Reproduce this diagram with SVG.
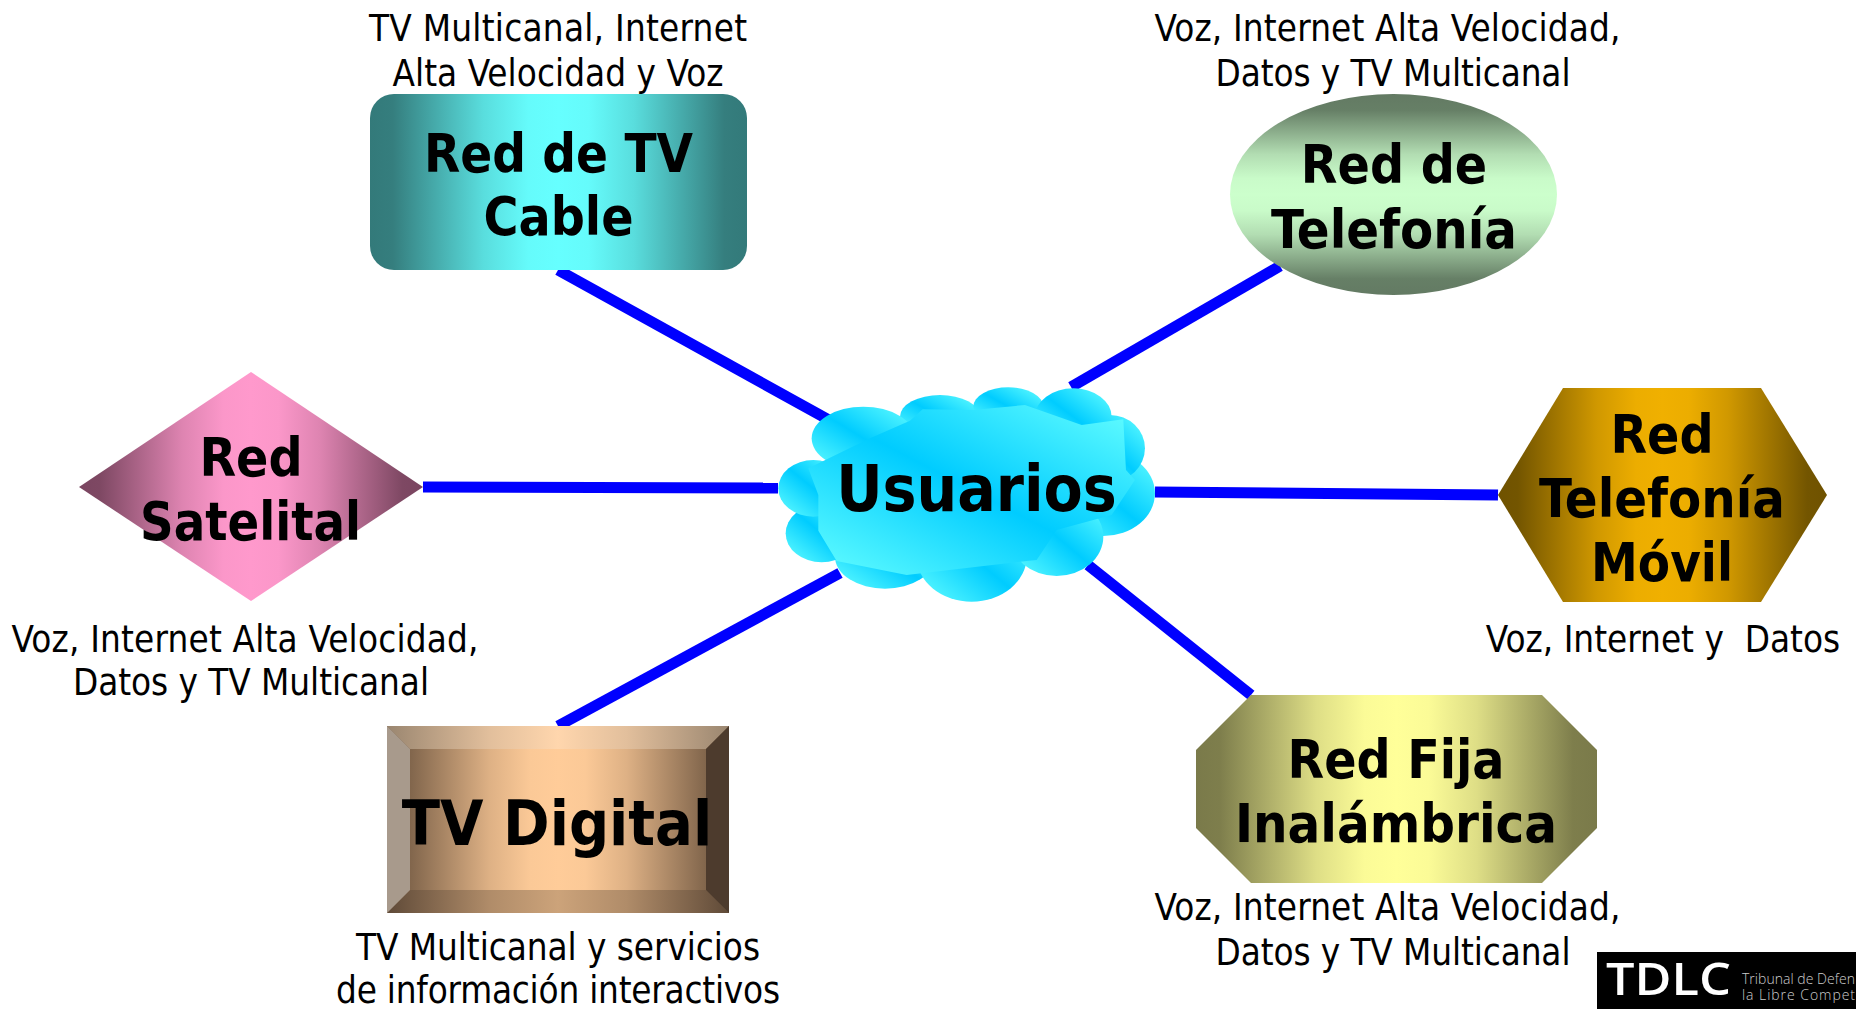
<svg xmlns="http://www.w3.org/2000/svg" width="1856" height="1009" viewBox="0 0 1856 1009">
<style>
.l{font-family:"DejaVu Sans",sans-serif;font-stretch:condensed;font-size:36.5px;fill:#000;text-anchor:middle}
.t{font-family:"DejaVu Sans",sans-serif;font-stretch:condensed;font-weight:700;font-size:53px;fill:#000;text-anchor:middle}
.c{stroke:#00f;stroke-width:11;fill:none}
</style>
<defs>
<linearGradient id="gTeal"><stop offset="0" stop-color="#337a7a"/><stop offset=".06" stop-color="#357e7e"/><stop offset=".3" stop-color="#59dddd"/><stop offset=".42" stop-color="#65fbfb"/><stop offset=".5" stop-color="#66ffff"/><stop offset=".58" stop-color="#65fbfb"/><stop offset=".7" stop-color="#59dddd"/><stop offset=".94" stop-color="#357e7e"/><stop offset="1" stop-color="#337a7a"/></linearGradient>
<linearGradient id="gGreen" x1="0" y1="0" x2="0" y2="1"><stop offset="0" stop-color="#637a63"/><stop offset=".08" stop-color="#667f66"/><stop offset=".3" stop-color="#b2ddb2"/><stop offset=".42" stop-color="#c9fbc9"/><stop offset=".5" stop-color="#ccffcc"/><stop offset=".58" stop-color="#c9fbc9"/><stop offset=".7" stop-color="#b2ddb2"/><stop offset=".92" stop-color="#667f66"/><stop offset="1" stop-color="#637a63"/></linearGradient>
<linearGradient id="gPink"><stop offset="0" stop-color="#7a4560"/><stop offset=".06" stop-color="#7e4863"/><stop offset=".3" stop-color="#de84b1"/><stop offset=".42" stop-color="#fb97c9"/><stop offset=".5" stop-color="#ff99cc"/><stop offset=".58" stop-color="#fb97c9"/><stop offset=".7" stop-color="#de84b1"/><stop offset=".94" stop-color="#7e4863"/><stop offset="1" stop-color="#7a4560"/></linearGradient>
<linearGradient id="gGold"><stop offset="0" stop-color="#6f5200"/><stop offset=".06" stop-color="#735500"/><stop offset=".3" stop-color="#d09800"/><stop offset=".42" stop-color="#ecad00"/><stop offset=".5" stop-color="#f0b000"/><stop offset=".58" stop-color="#ecad00"/><stop offset=".7" stop-color="#d09800"/><stop offset=".94" stop-color="#735500"/><stop offset="1" stop-color="#6f5200"/></linearGradient>
<linearGradient id="gYel"><stop offset="0" stop-color="#7a7a4a"/><stop offset=".06" stop-color="#7e7e4c"/><stop offset=".3" stop-color="#dede86"/><stop offset=".42" stop-color="#fbfb97"/><stop offset=".5" stop-color="#ffff99"/><stop offset=".58" stop-color="#fbfb97"/><stop offset=".7" stop-color="#dede86"/><stop offset=".94" stop-color="#7e7e4c"/><stop offset="1" stop-color="#7a7a4a"/></linearGradient>
<linearGradient id="gTan"><stop offset="0" stop-color="#7a6048"/><stop offset=".06" stop-color="#7e634a"/><stop offset=".3" stop-color="#deb185"/><stop offset=".42" stop-color="#fbc997"/><stop offset=".5" stop-color="#ffcc99"/><stop offset=".58" stop-color="#fbc997"/><stop offset=".7" stop-color="#deb185"/><stop offset=".94" stop-color="#7e634a"/><stop offset="1" stop-color="#7a6048"/></linearGradient>
<linearGradient id="gTanT"><stop offset="0" stop-color="#9a8670"/><stop offset=".3" stop-color="#e2bf9c"/><stop offset=".5" stop-color="#ffd6ad"/><stop offset=".7" stop-color="#e2bf9c"/><stop offset="1" stop-color="#9a8670"/></linearGradient>
<linearGradient id="gTanB"><stop offset="0" stop-color="#5f4a38"/><stop offset=".3" stop-color="#b08c69"/><stop offset=".5" stop-color="#cca37a"/><stop offset=".7" stop-color="#b08c69"/><stop offset="1" stop-color="#5f4a38"/></linearGradient>
<linearGradient id="gCy" x1="0" y1="1" x2="1" y2="0"><stop offset="0" stop-color="#66ffff"/><stop offset=".5" stop-color="#00ccff"/><stop offset="1" stop-color="#66ffff"/></linearGradient>
</defs>
<g id="connectors">
<line class="c" x1="558" y1="270" x2="829" y2="420"/>
<line class="c" x1="1071" y1="387" x2="1280" y2="266"/>
<line class="c" x1="423" y1="487" x2="778" y2="488"/>
<line class="c" x1="1155" y1="492" x2="1498" y2="495"/>
<line class="c" x1="558" y1="726" x2="840" y2="573"/>
<line class="c" x1="1088" y1="565" x2="1251" y2="695"/>
</g>
<g id="cloud">
<g transform="translate(740 360) scale(.3333)" fill="url(#gCy)">
<ellipse cx="600" cy="170" rx="120" ry="65"/>
<ellipse cx="805" cy="140" rx="105" ry="58"/>
<ellipse cx="1090" cy="400" rx="155" ry="128"/>
<ellipse cx="1110" cy="265" rx="105" ry="100"/>
<ellipse cx="1000" cy="170" rx="115" ry="85"/>
<ellipse cx="435" cy="590" rx="150" ry="96"/>
<ellipse cx="695" cy="590" rx="165" ry="135"/>
<ellipse cx="245" cy="520" rx="108" ry="87"/>
<ellipse cx="220" cy="385" rx="105" ry="85"/>
<ellipse cx="370" cy="235" rx="155" ry="95"/>
<ellipse cx="950" cy="530" rx="140" ry="118"/>
<polygon points="205,325 390,235 510,182 548,148 700,150 855,135 1025,195 1150,178 1158,330 1185,360 1115,465 950,510 890,600 860,603 500,645 290,603 235,512 235,405"/>
</g>
<text class="t" x="976.5" y="511" style="font-size:63.5px">Usuarios</text>
</g>
<g id="red-tv-cable">
<rect x="370" y="94" width="377" height="176" rx="24" fill="url(#gTeal)"/>
<text class="t" x="558.5" y="172" textLength="269" lengthAdjust="spacingAndGlyphs">Red de TV</text>
<text class="t" x="558.5" y="235">Cable</text>
<text class="l" x="558" y="41" textLength="378">TV Multicanal, Internet</text>
<text class="l" x="558" y="86" textLength="331">Alta Velocidad y Voz</text>
</g>
<g id="red-telefonia">
<ellipse cx="1393.5" cy="194.5" rx="163.5" ry="100.5" fill="url(#gGreen)"/>
<text class="t" x="1394" y="183">Red de</text>
<text class="t" x="1394" y="248" textLength="246" lengthAdjust="spacingAndGlyphs">Telefonía</text>
<text class="l" x="1387.5" y="41" textLength="466">Voz, Internet Alta Velocidad,</text>
<text class="l" x="1393" y="86" textLength="355">Datos y TV Multicanal</text>
</g>
<g id="red-satelital">
<polygon points="79,487 251,372 423,487 251,601" fill="url(#gPink)"/>
<text class="t" x="251" y="476">Red</text>
<text class="t" x="250.5" y="540" textLength="221" lengthAdjust="spacingAndGlyphs">Satelital</text>
<text class="l" x="245" y="652" textLength="467">Voz, Internet Alta Velocidad,</text>
<text class="l" x="251" y="695" textLength="356">Datos y TV Multicanal</text>
</g>
<g id="red-movil">
<polygon points="1498,495 1563,388 1761,388 1827,495 1761,602 1563,602" fill="url(#gGold)"/>
<text class="t" x="1662" y="453">Red</text>
<text class="t" x="1662" y="517" textLength="246" lengthAdjust="spacingAndGlyphs">Telefonía</text>
<text class="t" x="1662" y="581" textLength="142" lengthAdjust="spacingAndGlyphs">Móvil</text>
<text class="l" x="1663" y="652" xml:space="preserve">Voz, Internet y  Datos</text>
</g>
<g id="red-fija">
<polygon points="1196,750 1251,695 1542,695 1597,750 1597,828 1542,883 1251,883 1196,828" fill="url(#gYel)"/>
<text class="t" x="1396" y="778" textLength="217" lengthAdjust="spacingAndGlyphs">Red Fija</text>
<text class="t" x="1396" y="842" textLength="322" lengthAdjust="spacingAndGlyphs">Inalámbrica</text>
<text class="l" x="1387.5" y="920" textLength="466">Voz, Internet Alta Velocidad,</text>
<text class="l" x="1393" y="965" textLength="355">Datos y TV Multicanal</text>
</g>
<g id="tv-digital">
<rect x="387" y="726" width="342" height="187" fill="url(#gTan)"/>
<polygon points="387,726 729,726 706,749 410,749" fill="url(#gTanT)"/>
<polygon points="387,913 729,913 706,890 410,890" fill="url(#gTanB)"/>
<polygon points="387,726 410,749 410,890 387,913" fill="#a89a8c"/>
<polygon points="729,726 706,749 706,890 729,913" fill="#4d3b2d"/>
<text class="t" x="557" y="845" style="font-size:62.4px">TV Digital</text>
<text class="l" x="558" y="960" textLength="404">TV Multicanal y servicios</text>
<text class="l" x="558" y="1003" textLength="444">de información interactivos</text>
</g>
<g id="logo">
<rect x="1597" y="952" width="259" height="57" fill="#000"/>
<text x="1606" y="995" font-family="'Open Sans',sans-serif" font-size="46" font-weight="600" fill="#fff" textLength="125" lengthAdjust="spacingAndGlyphs">TDLC</text>
<text x="1742" y="984" font-family="'Open Sans',sans-serif" font-size="14" font-weight="300" fill="#ccc" textLength="113">Tribunal de Defen</text>
<text x="1742" y="1000" font-family="'Open Sans',sans-serif" font-size="14" font-weight="300" fill="#ccc" textLength="113">la Libre Compet</text>
</g>
</svg>
